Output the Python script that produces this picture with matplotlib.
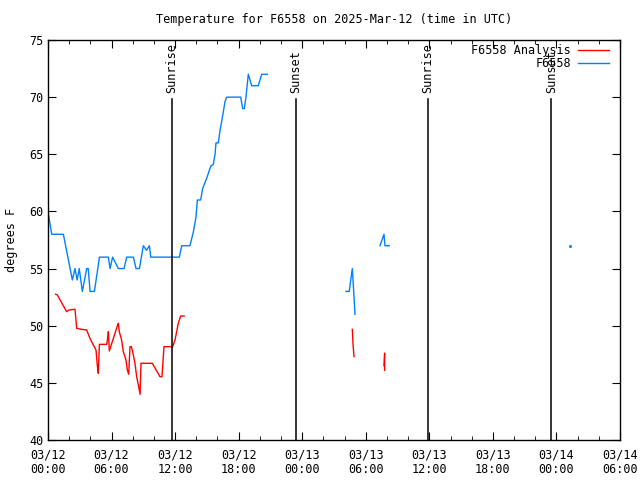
import numpy as np
import pandas as pd
import matplotlib
matplotlib.use("Agg")
import matplotlib.pyplot as plt
import matplotlib.dates as mdates

nan = np.nan

# hours after 2025-03-12 00:00 UTC, NaN breaks the line
obs_hours = [0.0, 0.35, 1.45, 2.3, 2.55, 2.75, 2.95, 3.24, 3.65, 3.8, 3.97, 4.38, 4.7, 4.85,
             5.7, 5.86, 6.1, 6.64, 7.18, 7.43, 8.06, 8.31, 8.63, 9.0, 9.3, 9.57, 9.7,
             12.4, 12.62, 13.4, 13.72, 13.97, 14.1, 14.41, 14.6, 14.98, 15.23, 15.39, 15.6,
             15.77, 15.86, 16.08, 16.24, 16.4, 16.55, 16.71, 16.87, 18.19, 18.38, 18.53,
             18.69, 18.82, 18.91, 19.23, 19.85, 20.17, 20.7,
             nan,
             28.13, 28.44, 28.58, 28.73, 28.89, 28.98,
             nan,
             31.34, 31.53, 31.72, 31.81, 32.22]
obs_temp = [60, 58, 58, 54, 55, 54, 55, 53, 55, 55, 53, 53, 55, 56,
            56, 55, 56, 55, 55, 56, 56, 55, 55, 57, 56.6, 57, 56,
            56, 57, 57, 58.2, 59.5, 61, 61, 62, 62.9, 63.6, 64, 64.1,
            65, 66, 66, 67.1, 67.9, 68.7, 69.6, 70, 70, 69, 69,
            70, 71.2, 72, 71, 71, 72, 72,
            nan,
            53, 53, 54, 55, 52.5, 51,
            nan,
            57, 57.5, 58, 57, 57]

lone_hours = [49.28]
lone_temp = [57]

ana_hours = [0.72, 0.88, 1.76, 1.98, 2.55, 2.71, 3.18, 3.65, 3.96, 4.28, 4.53, 4.66, 4.75,
             4.85, 5.54, 5.63, 5.70, 5.79, 6.32, 6.55, 6.64, 6.73, 6.95, 7.11, 7.36, 7.49,
             7.62, 7.74, 7.87, 7.99, 8.21, 8.37, 8.56, 8.69, 8.78, 9.85, 10.57, 10.76,
             10.95, 11.67, 11.74, 11.99, 12.30, 12.52, 12.84,
             nan,
             28.73, 28.8, 28.89,
             nan,
             31.72, 31.78, 31.78]
ana_temp = [52.75, 52.7, 51.23, 51.38, 51.44, 49.77, 49.68, 49.63, 48.9, 48.31, 47.88, 46.48,
            45.83, 48.37, 48.37, 48.9, 49.48, 47.79, 49.33, 50.0, 50.21, 49.48, 48.75, 47.73,
            47.0, 46.13, 45.75, 48.17, 48.17, 47.73, 46.71, 45.54, 44.67, 44.0, 46.71,
            46.71, 45.54, 45.54, 48.17, 48.17, 48.08, 48.75, 50.21, 50.85, 50.85,
            nan,
            49.68, 48.3, 47.3,
            nan,
            46.5, 47.6, 46.1]

sun_hours = [11.68, 23.37, 35.83, 47.53]
sun_labels = ["Sunrise", "Sunset", "Sunrise", "Sunset"]

start = pd.Timestamp("2025-03-12 00:00")


def to_time(hours):
    return start + pd.to_timedelta(np.asarray(hours, dtype=float), unit="h")


plt.rcParams["font.family"] = "DejaVu Sans Mono"
plt.rcParams["font.size"] = 8

fig = plt.figure(figsize=(6.4, 4.8), dpi=100)
ax = fig.add_axes([48 / 640, 40 / 480, 572 / 640, 400 / 480])

ax.plot(to_time(ana_hours), ana_temp, color="#ff0000", lw=1.0, label="F6558 Analysis")
ax.plot(to_time(obs_hours), obs_temp, color="#0080ff", lw=1.0, label="F6558")
ax.plot(to_time(lone_hours), lone_temp, ls="none", marker="s", ms=1, color="#0080ff")

for h, lab in zip(sun_hours, sun_labels):
    t = to_time([h])[0]
    ax.axvline(t, ymin=0, ymax=(69.8 - 40) / 35, color="black", lw=1.1)
    ax.text(t, 70.4, lab, rotation=90, ha="center", va="bottom", fontsize=8.5)

ax.set_xlim(to_time([0])[0], to_time([54])[0])
ax.set_ylim(40, 75)
ax.set_yticks(range(40, 76, 5))
ax.xaxis.set_major_locator(mdates.HourLocator(byhour=[0, 6, 12, 18]))
ax.xaxis.set_minor_locator(mdates.HourLocator(byhour=range(0, 24, 2)))
ax.xaxis.set_major_formatter(mdates.DateFormatter("%m/%d\n%H:%M"))
ax.tick_params(which="both", direction="in", top=True, right=True, labelsize=8.5)
ax.tick_params(which="major", length=6)
ax.tick_params(which="minor", length=3)
ax.tick_params(axis="x", pad=6)
for s in ax.spines.values():
    s.set_linewidth(1.0)

ax.set_title("Temperature for F6558 on 2025-Mar-12 (time in UTC)", fontsize=8.5, pad=12)
ax.set_ylabel("degrees F", fontsize=8.5, labelpad=8)
ax.legend(loc="upper right", bbox_to_anchor=(1 - 7 / 572, 1), frameon=False,
          markerfirst=False, fontsize=8.5, handlelength=2.6, handletextpad=0.6,
          borderaxespad=0.15, labelspacing=0.02, borderpad=0.2)

fig.savefig("out.png", dpi=100)
